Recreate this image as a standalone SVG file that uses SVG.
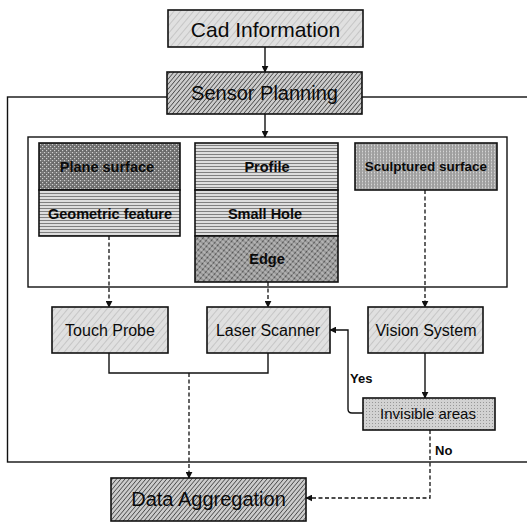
<svg xmlns="http://www.w3.org/2000/svg" width="527" height="524" viewBox="0 0 527 524">
<style>
  text { font-family: "Liberation Sans", Arial, sans-serif; fill: #0a0a0a; text-anchor: middle; }
  .big { font-size: 20px; }
  .mid { font-size: 16px; }
  .sm { font-size: 14.5px; font-weight: bold; }
  .lbl { font-size: 13px; font-weight: bold; text-anchor: start; }
  .box { stroke: #111; stroke-width: 1.6; }
  .frame { fill: none; stroke: #111; stroke-width: 1.4; }
  .solid { fill: none; stroke: #111; stroke-width: 1.4; }
  .dash { fill: none; stroke: #111; stroke-width: 1.3; stroke-dasharray: 4 2.5; }
</style>
<defs>
  <marker id="ah" viewBox="0 0 10 10" refX="9" refY="5" markerWidth="7" markerHeight="7" orient="auto" markerUnits="userSpaceOnUse">
    <path d="M0,0 L10,5 L0,10 z" fill="#111"/>
  </marker>
  <pattern id="light" width="5" height="5" patternUnits="userSpaceOnUse" patternTransform="rotate(40)">
    <rect width="5" height="5" fill="#e0e0e0"/>
    <line x1="0" y1="0" x2="0" y2="5" stroke="#a0a0a0" stroke-width="0.8"/>
  </pattern>
  <pattern id="dense" width="3.2" height="3.2" patternUnits="userSpaceOnUse" patternTransform="rotate(40)">
    <rect width="3.2" height="3.2" fill="#cccccc"/>
    <line x1="0" y1="0" x2="0" y2="3.2" stroke="#3a3a3a" stroke-width="1.4"/>
  </pattern>
  <pattern id="hlines" width="4" height="3" patternUnits="userSpaceOnUse">
    <rect width="4" height="3" fill="#dedede"/>
    <line x1="0" y1="1.5" x2="4" y2="1.5" stroke="#808080" stroke-width="1"/>
  </pattern>
  <pattern id="speckle" width="4" height="4" patternUnits="userSpaceOnUse">
    <rect width="4" height="4" fill="#6a6a6a"/>
    <rect x="0" y="0" width="1.2" height="1.2" fill="#d0d0d0"/>
    <rect x="2" y="2" width="1.2" height="1.2" fill="#d0d0d0"/>
    <rect x="2.5" y="0.3" width="0.9" height="0.9" fill="#a8a8a8"/>
  </pattern>
  <pattern id="cross" width="4" height="4" patternUnits="userSpaceOnUse" patternTransform="rotate(40)">
    <rect width="4" height="4" fill="#989898"/>
    <line x1="0" y1="0" x2="0" y2="4" stroke="#2e2e2e" stroke-width="1.3"/>
    <line x1="0" y1="2" x2="4" y2="2" stroke="#dcdcdc" stroke-width="0.8"/>
  </pattern>
  <pattern id="vdots" width="3" height="3" patternUnits="userSpaceOnUse">
    <rect width="3" height="3" fill="#b4b4b4"/>
    <line x1="1" y1="0" x2="1" y2="3" stroke="#808080" stroke-width="0.8"/>
    <rect x="2" y="1" width="0.8" height="0.8" fill="#e8e8e8"/>
  </pattern>
  <pattern id="dots" width="3" height="3" patternUnits="userSpaceOnUse">
    <rect width="3" height="3" fill="#d2d2d2"/>
    <rect x="0" y="0" width="1" height="1" fill="#989898"/>
  </pattern>
</defs>

<!-- containers -->
<rect id="outer-frame" class="frame" x="7.5" y="97" width="530" height="365"/>
<rect id="inner-frame" class="frame" x="28" y="137" width="479" height="150"/>

<g id="connectors">
  <line class="solid" x1="265" y1="47" x2="265" y2="72" marker-end="url(#ah)"/>
  <line class="solid" x1="265" y1="114" x2="265" y2="137" marker-end="url(#ah)"/>
  <line class="dash" x1="109" y1="236" x2="109" y2="307" marker-end="url(#ah)"/>
  <line class="dash" x1="268" y1="282" x2="268" y2="307" marker-end="url(#ah)"/>
  <line class="dash" x1="425" y1="190" x2="425" y2="307" marker-end="url(#ah)"/>
  <path class="solid" d="M109,353 L109,373 L268,373 L268,353"/>
  <line class="dash" x1="189" y1="373" x2="189" y2="478" marker-end="url(#ah)"/>
  <line class="solid" x1="425" y1="353" x2="425" y2="398" marker-end="url(#ah)"/>
  <path class="solid" d="M363,413 L352,413 Q348,413 348,409 L348,330 L330,330" marker-end="url(#ah)"/>
  <path class="dash" d="M430,430 L430,498 L306,498" marker-end="url(#ah)"/>
  <text class="lbl" x="350" y="383">Yes</text>
  <text class="lbl" x="435" y="455">No</text>
</g>

<g id="cad-information">
  <rect class="box" x="168" y="10" width="195" height="37" fill="url(#light)"/>
  <text class="big" x="265.5" y="37" style="font-size:21px">Cad Information</text>
</g>
<g id="sensor-planning">
  <rect class="box" x="167" y="72" width="195" height="42" fill="url(#dense)"/>
  <text class="big" x="264.5" y="100">Sensor Planning</text>
</g>

<g id="plane-surface">
  <rect class="box" x="39" y="143" width="141" height="47" fill="url(#speckle)"/>
  <text class="sm" x="107" y="172">Plane surface</text>
</g>
<g id="geometric-feature">
  <rect class="box" x="39" y="190" width="141" height="46" fill="url(#hlines)"/>
  <text class="sm" x="110" y="219">Geometric feature</text>
</g>

<g id="profile">
  <rect class="box" x="195" y="143" width="143" height="47" fill="url(#hlines)"/>
  <text class="sm" x="267" y="172">Profile</text>
</g>
<g id="small-hole">
  <rect class="box" x="195" y="190" width="143" height="46" fill="url(#hlines)"/>
  <text class="sm" x="265" y="219">Small Hole</text>
</g>
<g id="edge">
  <rect class="box" x="195" y="236" width="143" height="46" fill="url(#cross)"/>
  <text class="sm" x="267" y="264">Edge</text>
</g>

<g id="sculptured-surface">
  <rect class="box" x="355" y="143" width="142" height="47" fill="url(#vdots)"/>
  <text class="sm" x="426" y="171" style="font-size:13.5px">Sculptured surface</text>
</g>

<g id="touch-probe">
  <rect class="box" x="52" y="307" width="116" height="46" fill="url(#light)"/>
  <text class="mid" x="110" y="336">Touch Probe</text>
</g>
<g id="laser-scanner">
  <rect class="box" x="207" y="307" width="123" height="46" fill="url(#light)"/>
  <text class="mid" x="268" y="336">Laser Scanner</text>
</g>
<g id="vision-system">
  <rect class="box" x="368" y="307" width="115" height="46" fill="url(#light)"/>
  <text class="mid" x="426" y="336">Vision System</text>
</g>
<g id="invisible-areas">
  <rect class="box" x="363" y="398" width="132" height="32" fill="url(#dots)"/>
  <text class="mid" x="428" y="419" style="font-size:15px">Invisible areas</text>
</g>

<g id="data-aggregation">
  <rect class="box" x="111" y="478" width="195" height="43" fill="url(#dense)"/>
  <text class="big" x="208.5" y="506">Data Aggregation</text>
</g>
</svg>
